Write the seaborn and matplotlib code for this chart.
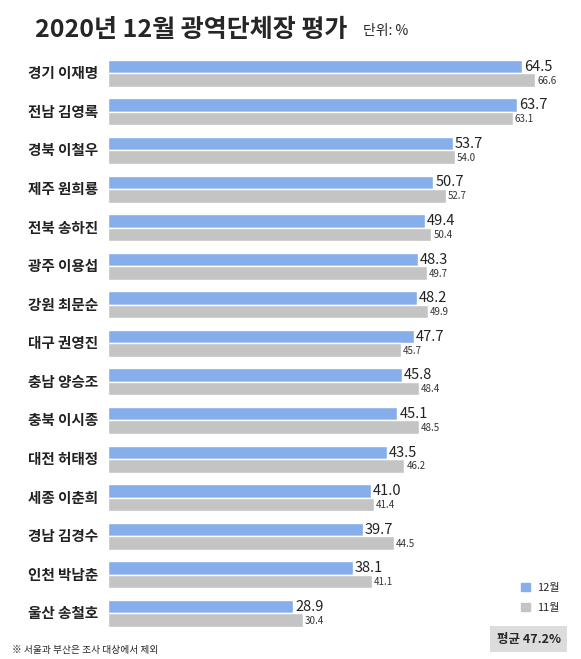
import matplotlib
matplotlib.use("Agg")
import matplotlib.pyplot as plt
import seaborn as sns
import pandas as pd
from matplotlib.patches import Patch

names = ["경기 이재명","전남 김영록","경북 이철우","제주 원희룡","전북 송하진","광주 이용섭","강원 최문순",
         "대구 권영진","충남 양승조","충북 이시종","대전 허태정","세종 이춘희","경남 김경수","인천 박남춘","울산 송철호"]
dec = [64.5,63.7,53.7,50.7,49.4,48.3,48.2,47.7,45.8,45.1,43.5,41.0,39.7,38.1,28.9]
nov = [66.6,63.1,54.0,52.7,50.4,49.7,49.9,45.7,48.4,48.5,46.2,41.4,44.5,41.1,30.4]
series = ["12월","11월"]
colors = ["#86aeea","#c4c4c4"]

sns.set_style("white")
plt.rcParams['font.family'] = ['Noto Sans CJK KR','DejaVu Sans']

df = pd.DataFrame({"name": names*2, "value": dec+nov, "month": [series[0]]*15+[series[1]]*15})
fig = plt.figure(figsize=(5.81,6.59), dpi=100)
ax = fig.add_axes([0.186, 0.04, 0.773, 0.878])
sns.barplot(data=df, y="name", x="value", hue="month", palette=colors, order=names,
            hue_order=series, width=0.7, ax=ax, legend=False, saturation=1)
ax.set_xlim(0, 70)
ax.set_ylim(len(names)-0.5, -0.5)
for s in ax.spines.values(): s.set_visible(False)
ax.set_xticks([]); ax.set_yticks([])
ax.set_xlabel(""); ax.set_ylabel("")
for i,(d,n) in enumerate(zip(dec,nov)):
    ax.text(d+0.3, i-0.17, f"{d:.1f}", va="center", ha="left", fontsize=10.5, color="#222")
    ax.text(n+0.3, i+0.19, f"{n:.1f}", va="center", ha="left", fontsize=7, color="#333")
    ax.text(-12.5, i, names[i], va="center", ha="left", fontsize=10.5, fontweight="bold", color="#222")

fig.text(0.06, 0.955, "2020년 12월 광역단체장 평가", fontsize=18, fontweight="bold", va="center")
fig.text(0.625, 0.953, "단위: %", fontsize=10, va="center")
fig.text(0.02, 0.013, "※ 서울과 부산은 조사 대상에서 제외", fontsize=7, va="center")
fig.text(0.965, 0.03, "평균 47.2%", fontsize=9, fontweight="bold", ha="right", va="center",
         bbox=dict(boxstyle="square,pad=0.5", fc="#dcdcdc", ec="none"))
handles = [Patch(color=c, label=s) for c,s in zip(colors, series)]
fig.legend(handles=handles, loc="center", bbox_to_anchor=(0.93, 0.093), frameon=False,
           fontsize=8, handlelength=0.8, handleheight=0.8, labelspacing=0.9, handletextpad=0.6)
fig.savefig("out.png", dpi=100)
